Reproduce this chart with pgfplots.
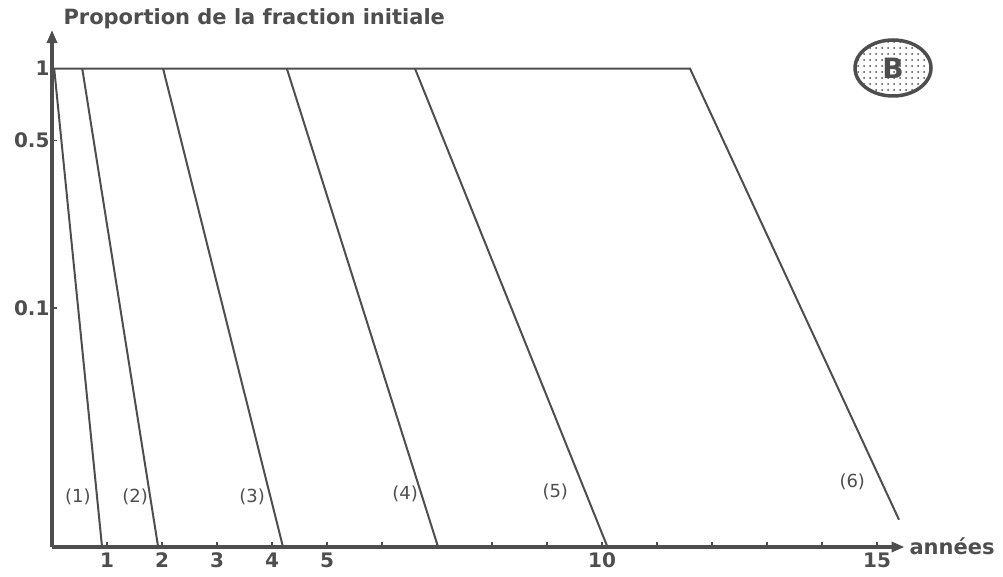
\documentclass[border=0pt]{standalone}
\usepackage{fontspec}
\setmainfont{DejaVu Sans}
\usepackage{pgfplots}
\pgfplotsset{compat=1.18}
\usetikzlibrary{arrows.meta,patterns.meta,shapes.geometric}
\definecolor{ink}{HTML}{4E4E4E}

\begin{document}
\begin{tikzpicture}[x=1pt,y=1pt]
\useasboundingbox (0,0) rectangle (1003,576);
\begin{axis}[
  at={(52pt,29pt)}, anchor=south west,
  scale only axis, width=852.5pt, height=517pt,
  xmin=0, xmax=15.5,
  ymode=log, ymin=0.01, ymax=1.45,
  axis lines=left,
  axis line style={ink, line width=3.5pt, -{Triangle[length=13pt,width=10pt]}},
  xtick={1,...,15},
  xticklabels={1,2,3,4,5,,,,,10,,,,,15},
  ytick={0.1,0.5,1},
  yticklabels={0.1,0.5,1},
  minor ytick={},
  tick align=inside,
  major tick length=5pt,
  tick style={ink, line width=1.5pt},
  /pgf/number format/assume math mode=true,
  ticklabel style={font=\bfseries\fontsize{20}{20}\selectfont, text=ink},
  xticklabel style={yshift=-2pt},
  yticklabel style={xshift=1pt},
  clip=false,
]
% common plateau at 1, then the slowest decay (6)
\addplot[ink, line width=2pt] coordinates {(0,1) (11.6,1) (15.4,0.013)};
% decays (1) to (5)
\addplot[ink, line width=2pt] coordinates {(0.04,1) (0.91,0.01)};
\addplot[ink, line width=2pt] coordinates {(0.55,1) (1.93,0.01)};
\addplot[ink, line width=2pt] coordinates {(2.02,1) (4.20,0.01)};
\addplot[ink, line width=2pt] coordinates {(4.27,1) (7.02,0.01)};
\addplot[ink, line width=2pt] coordinates {(6.60,1) (10.10,0.01)};

\begin{scope}[every node/.style={font=\fontsize{18}{18}\selectfont, text=ink}]
\node at (axis cs:0.47,0.0162) {(1)};
\node at (axis cs:1.51,0.0162) {(2)};
\node at (axis cs:3.64,0.0162) {(3)};
\node at (axis cs:6.42,0.0167) {(4)};
\node at (axis cs:9.15,0.0170) {(5)};
\node at (axis cs:14.55,0.0188) {(6)};
\end{scope}
\end{axis}

\node[anchor=base west, text=ink, font=\bfseries\fontsize{21}{21}\selectfont]
  at (60,551) {Proportion de la fraction initiale};
\node[anchor=base west, text=ink, font=\bfseries\fontsize{21}{21}\selectfont]
  at (906,22) {années};

% badge
\node[ellipse, draw=ink, line width=3.5pt, minimum width=76pt, minimum height=56pt,
      pattern={Dots[distance=6pt, radius=1pt]}, pattern color=ink] at (893,508) {};
\node[text=ink, font=\bfseries\fontsize{28}{28}\selectfont] at (893,508) {B};
\end{tikzpicture}
\end{document}
